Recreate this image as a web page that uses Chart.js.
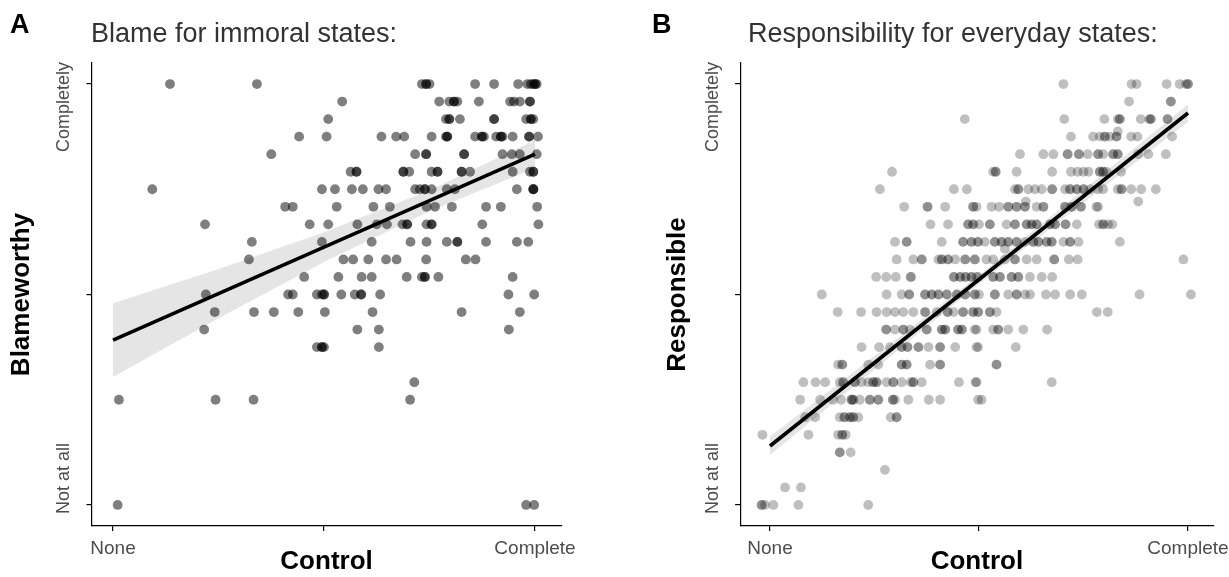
<!DOCTYPE html>
<html>
<head>
<meta charset="utf-8">
<script src="https://cdn.jsdelivr.net/npm/chart.js@4.4.1/dist/chart.umd.min.js"></script>
<style>
  body { margin: 0; background: #fff; width: 1229px; height: 577px; overflow: hidden; position: relative; font-family: "Liberation Sans", Arial, sans-serif; }
  .panel { position: absolute; top: 0; height: 577px; }
  .tag { position: absolute; font-weight: bold; font-size: 27px; color: #000; line-height: 1; }
  .ttl { position: absolute; font-size: 27px; color: #333; line-height: 1; white-space: nowrap; }
</style>
</head>
<body>
<div class="panel" style="left:0;width:620px"><canvas id="chartA" width="620" height="577"></canvas></div>
<div class="panel" style="left:620px;width:609px"><canvas id="chartB" width="609" height="577"></canvas></div>
<div class="tag" style="left:10px;top:11px">A</div>
<div class="ttl" style="left:91px;top:20px">Blame for immoral states:</div>
<div class="tag" style="left:652px;top:11px">B</div>
<div class="ttl" style="left:748px;top:20px">Responsibility for everyday states:</div>
<script>
// ticks (rating scale 0..24, control 0..100)
const xTickVals = [0, 50, 100];
const xTickLabels = ["None", "", "Complete"];
const yTickVals = [0, 12, 24];
const yTickLabels = ["Not at all", "", "Completely"];

// A: control values for each blame rating (index = rating)
const blameControl = [
  /*0*/ [1.1, 97.9, 99.8],
  /*1*/ [],
  /*2*/ [],
  /*3*/ [],
  /*4*/ [],
  /*5*/ [],
  /*6*/ [1.4, 24.3, 33.3, 70.4],
  /*7*/ [71.4],
  /*8*/ [],
  /*9*/ [48.3, 49.5, 49.5, 50, 63],
  /*10*/ [21.6, 57.9, 63, 93.8],
  /*11*/ [24.1, 33.4, 38.1, 43.9, 50.2, 61.5, 82.6, 96.4],
  /*12*/ [22, 41.5, 42.6, 48.3, 49.5, 50, 50, 54.1, 57.3, 58.8, 58.8, 63.3, 93.7, 99.8],
  /*13*/ [45.3, 53.4, 58.9, 61.3, 69.6, 73.2, 73.9, 73.9, 77.1, 94.7],
  /*14*/ [32.2, 54.6, 56.9, 60.5, 64.7, 67.2, 74.2, 83.6, 85.9],
  /*15*/ [32.9, 49.5, 61.3, 70.5, 74.3, 79.1, 81.6, 81.6, 88.4, 95.7, 98.4],
  /*16*/ [21.8, 46.6, 51, 57.9, 62.5, 64.9, 68.6, 69.7, 69.7, 74.3, 75.5, 75.5, 87.5, 100.8],
  /*17*/ [40.8, 42.6, 53, 61.7, 65.6, 74.3, 76.3, 80.3, 88.4, 91.9, 100.5],
  /*18*/ [9.3, 49.5, 52.6, 56.6, 59.2, 62.9, 64.7, 71.6, 72.7, 73.9, 73.9, 75.5, 79.1, 81, 95.7, 99.6, 99.6, 99.6],
  /*19*/ [56.3, 57.7, 57.7, 68.8, 68.8, 70.2, 75.5, 76.9, 76.9, 82.6, 82.6, 84.6, 94.7, 98.8, 99.6, 99.6],
  /*20*/ [37.5, 71.6, 74.2, 74.2, 83.2, 83.2, 92.3, 94.5, 96.4, 100.4],
  /*21*/ [44.1, 50.6, 63.6, 67.1, 69, 75.5, 78.9, 79.2, 79.2, 85.8, 87.4, 87.4, 87.9, 90.8, 91.9, 91.9, 92.3, 94.7, 98.6, 98.6, 100.7],
  /*22*/ [51, 78.9, 79.7, 79.7, 82.2, 90.3, 90.3, 97.9, 99, 99, 99.6],
  /*23*/ [54.3, 77.3, 79.7, 80.8, 80.8, 81.6, 86.7, 94.1, 95, 96.4, 98.8, 98.8],
  /*24*/ [13.5, 34.1, 73.2, 74.2, 74.2, 75, 85.8, 90.3, 96, 98.2, 99, 99.6, 100, 100, 100.4]
];
const blameFitX = [0, 100];
const blameFitY = [9.4, 20.0];
const blameBandX = [0, 25, 50, 75, 100];
const blameBandUp = [11.5, 13.45, 15.55, 17.95, 20.8];
const blameBandLo = [7.3, 10.65, 13.85, 16.75, 19.2];

// B: control values for each responsibility rating (index = rating)
const respControl = [
  /*0*/ [-2, -2, -1.2, 0.8, 6.8, 23.5],
  /*1*/ [3.6, 7.4],
  /*2*/ [27.5],
  /*3*/ [16.7, 16.7, 19.3],
  /*4*/ [-1.8, 9.2, 16.3, 17.3, 17.3, 18.1],
  /*5*/ [8.4, 10.8, 16.7, 17.8, 17.8, 19.1, 19.1, 19.9, 19.9, 21.1, 28.9, 30.3, 30.3],
  /*6*/ [7.2, 12, 15.1, 17, 19.5, 19.5, 19.9, 19.9, 21.5, 23.9, 23.9, 25.9, 25.9, 29.4, 29.4, 29.9, 33.1, 38, 40.7, 49.8, 50.6],
  /*7*/ [8, 10.9, 13.2, 16.7, 17.5, 17.5, 20.3, 20.3, 21.9, 23.5, 24.7, 24.7, 25.5, 25.5, 27.9, 29.5, 29.5, 31.5, 33.7, 34.3, 34.3, 36.3, 45.2, 49.2, 49.4, 67.4],
  /*8*/ [16.3, 17.3, 17.3, 23.5, 25.9, 31.5, 31.5, 32.7, 32.7, 38.3, 40.7, 40.7, 54.2, 54.2],
  /*9*/ [21.9, 26.1, 28.7, 31.5, 31.5, 32.9, 32.9, 35.5, 35.5, 37.9, 40.7, 40.7, 44.3, 49.4, 49.8, 58.8],
  /*10*/ [27.8, 27.8, 29.9, 31.9, 31.9, 33.5, 37.5, 37.5, 41.1, 41.1, 41.9, 41.9, 45, 45, 45.9, 45.9, 49, 49.4, 53.4, 54.6, 54.6, 57, 60.6, 66.3],
  /*11*/ [16.2, 21.8, 25.5, 27.9, 29.9, 31.9, 34.3, 37.1, 37.1, 39.9, 42.5, 42.5, 43.9, 46.2, 46.2, 48.6, 48.6, 49.8, 49.8, 52.6, 52.6, 54.2, 78.2, 80.8],
  /*12*/ [12.4, 27.9, 31.5, 33.3, 33.3, 37.1, 37.1, 38.7, 38.7, 40.3, 40.3, 42.3, 42.3, 44.7, 44.7, 46.7, 46.7, 49, 49, 50, 53.8, 53.8, 57, 59, 59, 61, 62.2, 66, 68.2, 71.8, 74.6, 88.4, 100.7],
  /*13*/ [25.4, 27.8, 30.1, 33.7, 33.7, 44, 44, 45.5, 45.5, 46.8, 46.8, 48.2, 48.2, 49.4, 49.8, 53.4, 53.4, 55, 55, 57.8, 57.8, 59.4, 59.4, 62.2, 65, 67.5],
  /*14*/ [30.3, 34.3, 36.3, 36.3, 40.3, 41.1, 41.1, 42.6, 42.6, 44.3, 46.7, 46.7, 49, 49, 51.8, 53.4, 56.2, 58.6, 58.6, 61.4, 63.8, 68, 68, 71.5, 73.6, 98.9],
  /*15*/ [29.9, 32.7, 32.7, 41.1, 46.2, 46.2, 48.2, 48.2, 49.7, 49.8, 51.4, 53.8, 53.8, 55.4, 55.4, 57, 57, 59, 59, 61, 63, 63, 64.2, 64.2, 66.2, 66.2, 67.4, 67.4, 70.2, 71.8, 71.8, 73.8, 83.7],
  /*16*/ [38.4, 42.6, 47.4, 47.4, 48.6, 48.6, 50, 52.6, 52.6, 56.6, 58.6, 58.6, 61.4, 61.4, 62.6, 62.6, 63.8, 63.8, 67, 67, 68.2, 68.2, 70.7, 70.7, 73.4, 78.7, 79.7, 79.7, 80.9, 81.9],
  /*17*/ [32.1, 37.7, 37.7, 41.9, 48.6, 48.6, 49.4, 53, 54.8, 57, 57, 59, 59, 61, 61, 63.8, 65.4, 65.4, 70.6, 70.6, 72.2, 72.2, 74.4, 74.4, 78.1, 78.5],
  /*18*/ [26.3, 44, 47.1, 58.6, 59.4, 59.4, 61.8, 63.4, 65, 67.5, 67.5, 70.6, 71.8, 71.8, 73.4, 73.4, 75, 75, 76.6, 78.5, 79.7, 83.2, 84.1, 84.1, 86.4, 88.8, 92.3],
  /*19*/ [29.2, 53.4, 54, 54, 59, 67.5, 72, 73.6, 75, 76.2, 78.9, 78.9, 79.7, 79.7, 80.5, 84],
  /*20*/ [59.8, 65.4, 67.8, 71.2, 71.2, 73.9, 73.9, 76, 78.5, 78.5, 79.7, 82.1, 82.1, 83.2, 83.2, 88.1, 90.5, 94.7],
  /*21*/ [72, 77.3, 78.9, 80.1, 80.1, 81.3, 82.9, 82.9, 86.4, 87.9, 96.2],
  /*22*/ [46.6, 70.4, 80, 83.2, 83.7, 83.7, 88.7, 90.7, 91.1, 91.1, 95.1, 95.1],
  /*23*/ [85.9, 95.9, 95.9],
  /*24*/ [70.2, 86.5, 87.7, 94.9, 98, 99.5, 100, 100]
];
// B: the few answers between scale steps
const respExtraX = [83.2, 61.2, 88.1, 56.2];
const respExtraY = [21.3, 17.3, 17.3, 14.6];
const respFitX = [0, 100];
const respFitY = [3.36, 22.35];
const respBandX = [0, 50, 100];
const respBandUp = [3.9, 13.1, 22.85];
const respBandLo = [2.85, 12.6, 21.85];

const fontFam = '"Liberation Sans", Arial, sans-serif';

function puntosDesdeFilas(filas, extraX, extraY) {
  var pts = [];
  filas.forEach((xs, rating) => {
    xs.forEach((x) => pts.push({ x: x, y: rating }));
  });
  extraX.forEach((x, i) => pts.push({ x: x, y: extraY[i] }));
  return pts;
}

function pares(xs, ys) {
  return xs.map((x, i) => ({ x: x, y: ys[i] }));
}

// y tick labels are drawn turned; top one hangs below its tick, bottom one sits above
const yEtiquetasGiradas = {
  id: "yEtiquetasGiradas",
  afterDraw(chart) {
    const s = chart.scales.y;
    const ctx = chart.ctx;
    ctx.save();
    ctx.fillStyle = "#4d4d4d";
    ctx.font = "18px " + fontFam;
    ctx.textBaseline = "middle";
    yTickVals.forEach((v, i) => {
      if (!yTickLabels[i]) return;
      var y = s.getPixelForValue(v);
      ctx.save();
      if (i === yTickVals.length - 1) {
        ctx.translate(s.right - 27, y - 22);
        ctx.textAlign = "right";
      } else {
        ctx.translate(s.right - 27, y + 9);
        ctx.textAlign = "left";
      }
      ctx.rotate(-Math.PI / 2);
      ctx.fillText(yTickLabels[i], 0, 0);
      ctx.restore();
    });
    ctx.restore();
  },
};

function grafico(id, cfg) {
  const ctx = document.getElementById(id);
  return new Chart(ctx, {
    type: "scatter",
    data: {
      datasets: [
        {
          data: cfg.puntos,
          backgroundColor: cfg.colorPunto,
          borderWidth: 0,
          pointRadius: 4.9,
          pointHoverRadius: 4.9,
          order: 3,
        },
        {
          type: "line",
          data: pares(cfg.bandaX, cfg.bandaUp),
          borderWidth: 0,
          pointRadius: 0,
          fill: "+1",
          backgroundColor: "rgba(0,0,0,0.1)",
          order: 2,
        },
        {
          type: "line",
          data: pares(cfg.bandaX, cfg.bandaLo),
          borderWidth: 0,
          pointRadius: 0,
          fill: false,
          order: 2,
        },
        {
          type: "line",
          data: pares(cfg.ajusteX, cfg.ajusteY),
          borderColor: "#000",
          borderWidth: 3.6,
          pointRadius: 0,
          fill: false,
          order: 1,
        },
      ],
    },
    options: {
      responsive: false,
      animation: false,
      events: [],
      layout: { padding: { top: 63, right: cfg.derecha, bottom: 0, left: 0 } },
      plugins: { legend: { display: false }, tooltip: { enabled: false } },
      scales: {
        x: {
          type: "linear",
          min: cfg.xMin,
          max: cfg.xMax,
          afterBuildTicks: (scale) => {
            scale.ticks = xTickVals.map((v) => ({ value: v }));
          },
          afterFit: (scale) => {
            scale.height = 51;
            // labels may hang over the edge, keep the plot width fixed
            scale.paddingLeft = 0;
            scale.paddingRight = 0;
          },
          border: { display: true, color: "#000", width: 1.2 },
          grid: { drawOnChartArea: false, drawTicks: true, tickLength: 5, color: "#000", lineWidth: 1.2 },
          ticks: {
            padding: 6,
            color: "#4d4d4d",
            font: { size: 19, family: fontFam },
            maxRotation: 0,
            callback: (value) => xTickLabels[xTickVals.indexOf(value)],
          },
          title: {
            display: true,
            text: "Control",
            color: "#000",
            font: { size: 26, weight: "bold", family: fontFam },
            padding: { top: 0, bottom: 0 },
          },
        },
        y: {
          type: "linear",
          min: -1.2,
          max: 25.2,
          afterBuildTicks: (scale) => {
            scale.ticks = yTickVals.map((v) => ({ value: v }));
          },
          afterFit: (scale) => {
            scale.width = cfg.anchoY;
            scale.paddingTop = 0;
            scale.paddingBottom = 0;
          },
          border: { display: true, color: "#000", width: 1.2 },
          grid: { drawOnChartArea: false, drawTicks: true, tickLength: 5, color: "#000", lineWidth: 1.2 },
          ticks: { display: false },
          title: {
            display: true,
            text: cfg.tituloY,
            color: "#000",
            font: { size: 26, weight: "bold", family: fontFam },
            padding: { top: cfg.padTituloY, bottom: 0 },
          },
        },
      },
    },
    plugins: [yEtiquetasGiradas],
  });
}

window.onload = function () {
  grafico("chartA", {
    puntos: puntosDesdeFilas(blameControl, [], []),
    colorPunto: "rgba(0,0,0,0.5)",
    bandaX: blameBandX, bandaUp: blameBandUp, bandaLo: blameBandLo,
    ajusteX: blameFitX, ajusteY: blameFitY,
    xMin: -5.1, xMax: 106.3,
    anchoY: 91.5, derecha: 58.4,
    tituloY: "Blameworthy", padTituloY: 6,
  });
  grafico("chartB", {
    puntos: puntosDesdeFilas(respControl, respExtraX, respExtraY),
    colorPunto: "rgba(0,0,0,0.25)",
    bandaX: respBandX, bandaUp: respBandUp, bandaLo: respBandLo,
    ajusteX: respFitX, ajusteY: respFitY,
    xMin: -7.15, xMax: 106.15,
    anchoY: 120.1, derecha: 15.3,
    tituloY: "Responsible", padTituloY: 42,
  });
};
</script>
</body>
</html>
